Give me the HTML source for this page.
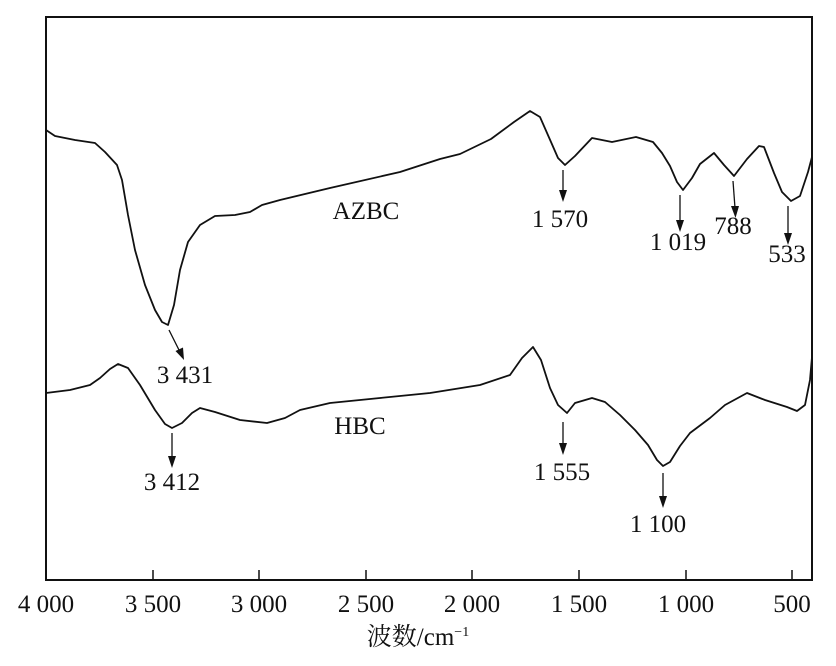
<!DOCTYPE html>
<html><head><style>
body{margin:0;background:#fff}
svg text{font-family:"Liberation Serif","Noto Serif CJK SC",serif;font-size:25px;fill:#111}
</style></head><body>
<svg width="836" height="661" viewBox="0 0 836 661" xmlns="http://www.w3.org/2000/svg">
<rect x="46" y="17" width="766" height="563" fill="none" stroke="#111" stroke-width="2"/>
<g stroke="#111" stroke-width="1.5">
<line x1="153" y1="580" x2="153" y2="570"/><line x1="259" y1="580" x2="259" y2="570"/><line x1="366" y1="580" x2="366" y2="570"/><line x1="472" y1="580" x2="472" y2="570"/><line x1="579" y1="580" x2="579" y2="570"/><line x1="686" y1="580" x2="686" y2="570"/><line x1="792" y1="580" x2="792" y2="570"/>
</g>
<g text-anchor="middle">
<text x="46" y="612">4 000</text><text x="153" y="612">3 500</text><text x="259" y="612">3 000</text><text x="366" y="612">2 500</text><text x="472" y="612">2 000</text><text x="579" y="612">1 500</text><text x="686" y="612">1 000</text><text x="792" y="612">500</text>
<text x="418" y="645" font-size="23">波数/cm<tspan font-size="14" dy="-9">−1</tspan></text>
</g>
<g fill="none" stroke="#111" stroke-width="1.8" stroke-linejoin="round">
<polyline points="46,130 55,136 75,140 95,143 105,152 117,165 122,180 128,215 135,250 145,285 155,310 162,322 168,325 174,305 180,270 188,242 200,225 215,216 235,215 250,212 262,205 280,200 330,188 400,172 440,159 460,154 491,139 514,122 530,111 540,117 551,142 558,158 565,165 575,156 592,138 612,142 636,137 653,142 662,153 670,166 677,182 683,190 692,178 700,164 714,153 724,165 734,176 747,159 759,146 764,147 774,173 782,192 791,201 800,196 808,172 812,157"/>
<polyline points="46,393 70,390 90,385 100,378 110,369 118,364 128,368 140,385 155,410 165,424 172,428 182,423 192,413 200,408 215,412 240,420 267,423 285,418 300,410 330,403 380,398 430,393 480,385 510,375 522,358 533,347 541,360 550,388 558,405 567,413 575,403 592,398 605,402 620,415 635,430 648,445 657,460 663,466 670,462 680,446 690,433 710,418 725,405 747,393 765,400 787,407 797,411 805,405 810,380 812,357"/>
</g>
<g stroke="#111" stroke-width="1.3">
<line x1="169" y1="330" x2="180" y2="352"/>
<line x1="563" y1="170" x2="563" y2="192"/>
<line x1="680" y1="195" x2="680" y2="222"/>
<line x1="733" y1="181" x2="735" y2="208"/>
<line x1="788" y1="206" x2="788" y2="235"/>
<line x1="172" y1="433" x2="172" y2="458"/>
<line x1="563" y1="422" x2="563" y2="445"/>
<line x1="663" y1="473" x2="663" y2="498"/>
</g>
<g fill="#111">
<path d="M175.5,351 L183,347.5 L184,360 Z"/>
<path d="M559,190 L567,190 L563,202 Z"/>
<path d="M676,220 L684,220 L680,232 Z"/>
<path d="M731,206 L739,206 L735.5,218 Z"/>
<path d="M784,233 L792,233 L788,245 Z"/>
<path d="M168,456 L176,456 L172,468 Z"/>
<path d="M559,443 L567,443 L563,455 Z"/>
<path d="M659,496 L667,496 L663,508 Z"/>
</g>
<g text-anchor="middle">
<text x="366" y="219">AZBC</text><text x="360" y="434">HBC</text>
<text x="185" y="383">3 431</text><text x="560" y="227">1 570</text><text x="678" y="250">1 019</text><text x="733" y="234">788</text><text x="787" y="262">533</text>
<text x="172" y="490">3 412</text><text x="562" y="480">1 555</text><text x="658" y="532">1 100</text>
</g>
</svg>
</body></html>
